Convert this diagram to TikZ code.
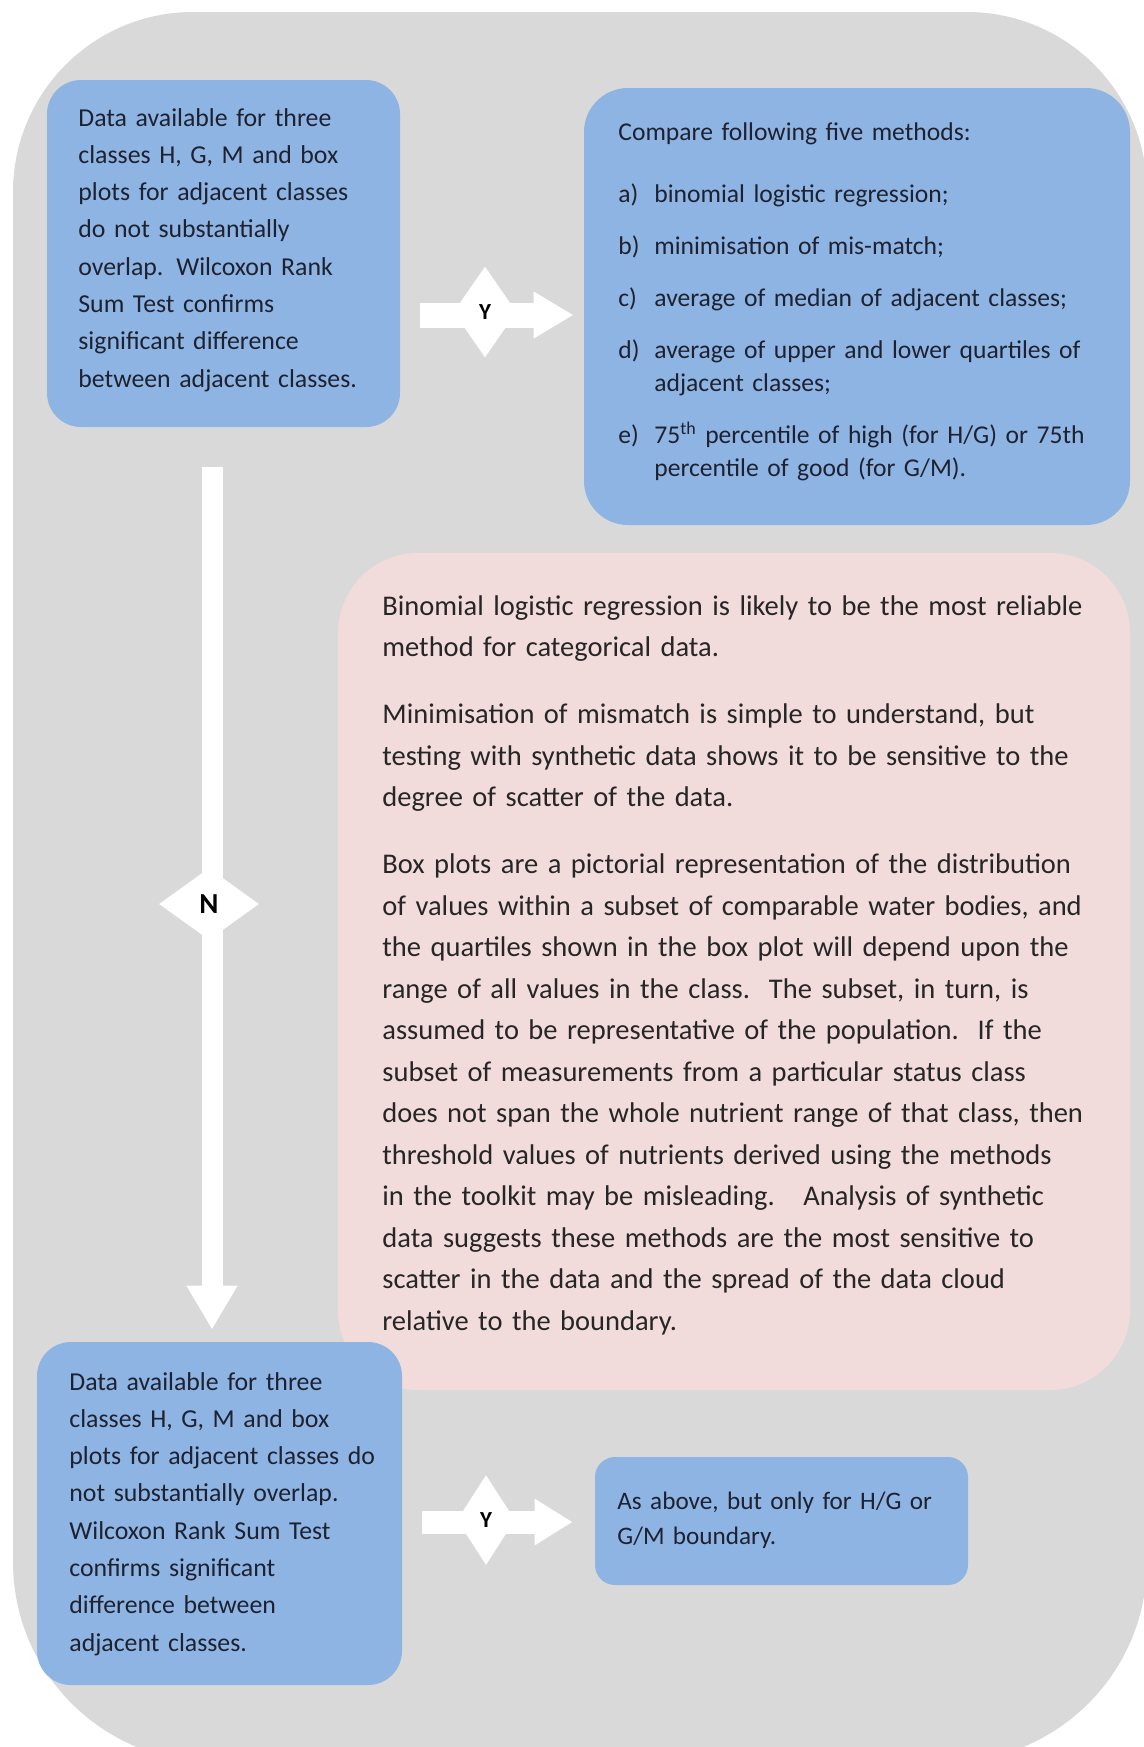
\documentclass[tikz,border=0pt]{standalone}
\usepackage{fontspec}
\setmainfont{Carlito}
\usetikzlibrary{shapes.geometric,arrows.meta,calc}
\definecolor{bg}{HTML}{D9D9D9}
\definecolor{boxblue}{HTML}{8EB4E3}
\definecolor{boxpink}{HTML}{F2DCDB}
\definecolor{ink}{HTML}{1E2230}
\definecolor{pinkink}{HTML}{262626}
\begin{document}
\begin{tikzpicture}[x=0.5pt,y=-0.5pt,
  bluebox/.style={fill=boxblue, draw=none, rounded corners=17pt, inner sep=0pt},
  pinkbox/.style={fill=boxpink, draw=none, rounded corners=40pt, inner sep=0pt},
  txt/.style={anchor=base west, inner sep=0pt, align=left, text=ink},
  decision/.style={diamond, fill=white, draw=none, inner sep=0pt, text=black},
  flow/.style={draw=white, line width=#1},
]
\useasboundingbox (0,0) rectangle (1144,1747);
\clip (0,0) rectangle (1144,1747);
\fill[white] (0,0) rectangle (1144,1747);
% outer grey panel
\fill[bg, rounded corners=90pt] (13,900) -- (13,12) -- (1147,12) -- (1147,900)
   [rounded corners=100pt] -- (1147,1762) -- (13,1762) -- cycle;

% boxes
\node[bluebox, minimum width=176.5pt, minimum height=173.5pt] (b1) at (223.5,253.5) {};
\node[bluebox, minimum width=273pt, minimum height=218.5pt, rounded corners=22pt] (b2) at (857,306.5) {};
\node[pinkbox, minimum width=396pt, minimum height=418.5pt] (pk) at (734,971.5) {};
\node[bluebox, minimum width=182.5pt, minimum height=171.5pt] (b3) at (219.5,1513.5) {};
\node[bluebox, minimum width=186.5pt, minimum height=64pt, rounded corners=10pt] (b4) at (781.5,1521) {};

% texts
\node[txt, text width=180pt, font=\fontsize{12.9pt}{18.65pt}\selectfont] (t1) at (78,126)
{Data available for three\\
classes H, G, M and box\\
plots for adjacent classes\\
do not substantially\\
overlap. Wilcoxon Rank\\
Sum Test confirms\\
significant difference\\
between adjacent classes.};

\node[txt, text width=265pt, font=\fontsize{12.8pt}{16.6pt}\selectfont] (t2) at (618,140)
{Compare following five methods:\\[14.8pt]
\makebox[18pt][l]{a)}binomial logistic regression;\\[9.3pt]
\makebox[18pt][l]{b)}minimisation of mis-match;\\[9.3pt]
\makebox[18pt][l]{c)}average of median of adjacent classes;\\[9.3pt]
\makebox[18pt][l]{d)}average of upper and lower quartiles of\\
\hspace*{18pt}adjacent classes;\\[9.3pt]
\makebox[18pt][l]{e)}75\textsuperscript{th} percentile of high (for H/G) or 75th\\
\hspace*{18pt}percentile of good (for G/M).};

\node[txt, text=pinkink, text width=385pt, font=\fontsize{14.25pt}{20.75pt}\selectfont] (t3) at (382,615)
{Binomial logistic regression is likely to be the most reliable\\
method for categorical data.\\[12.75pt]
Minimisation of mismatch is simple to understand, but\\
testing with synthetic data shows it to be sensitive to the\\
degree of scatter of the data.\\[12.75pt]
Box plots are a pictorial representation of the distribution\\
of values within a subset of comparable water bodies, and\\
the quartiles shown in the box plot will depend upon the\\
range of all values in the class.\ \ The subset, in turn, is\\
assumed to be representative of the population.\ \ If the\\
subset of measurements from a particular status class\\
does not span the whole nutrient range of that class, then\\
threshold values of nutrients derived using the methods\\
in the toolkit may be misleading.\ \ \ Analysis of synthetic\\
data suggests these methods are the most sensitive to\\
scatter in the data and the spread of the data cloud\\
relative to the boundary.};

\node[txt, text width=180pt, font=\fontsize{12.9pt}{18.65pt}\selectfont] (t4) at (69,1390)
{Data available for three\\
classes H, G, M and box\\
plots for adjacent classes do\\
not substantially overlap.\\
Wilcoxon Rank Sum Test\\
confirms significant\\
difference between\\
adjacent classes.};

\node[txt, text width=180pt, font=\fontsize{12.6pt}{17.5pt}\selectfont] (t5) at (617,1509)
{As above, but only for H/G or\\
G/M boundary.};

% connectors
\coordinate (nstart) at (212,467);
\draw[flow=10.5pt, -{Triangle[width=24pt,length=22pt]}] (nstart) -- (nstart |- b3.north) [shorten >=6pt];
\draw[flow=12.5pt, -{Triangle[width=22pt,length=20pt]}, shorten <=10pt, shorten >=5pt] (b1.east |- 0,315) -- (b2.west |- 0,315);
\draw[flow=11.5pt, -{Triangle[width=22pt,length=19pt]}, shorten <=10pt, shorten >=11pt] (b3.east |- 0,1522) -- (b4.west |- 0,1522);

% decision labels
\node[decision, minimum width=31.5pt, minimum height=45.5pt, font=\fontsize{11.5pt}{12pt}\selectfont\bfseries] (dy1) at (485,312) {Y};
\node[decision, minimum width=50pt, minimum height=36pt, font=\fontsize{14.5pt}{15pt}\selectfont\bfseries] (dn) at (209,904) {N};
\node[decision, minimum width=29pt, minimum height=45pt, font=\fontsize{11.5pt}{12pt}\selectfont\bfseries] (dy2) at (486,1520) {Y};
\end{tikzpicture}
\end{document}
